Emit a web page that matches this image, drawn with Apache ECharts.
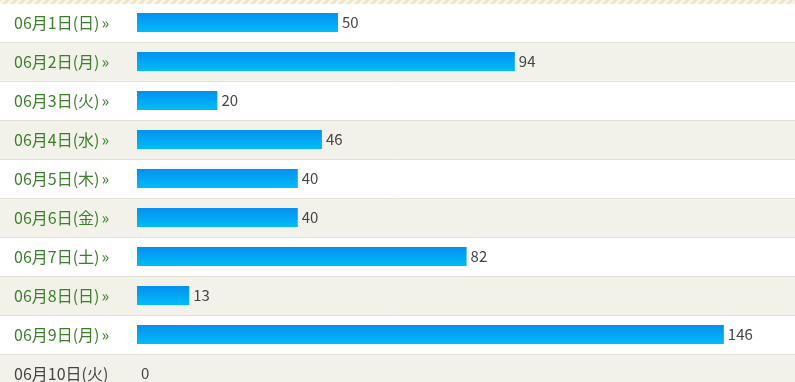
<!DOCTYPE html>
<html><head><meta charset="utf-8">
<script src="https://cdn.jsdelivr.net/npm/echarts@6/dist/echarts.min.js"></script>
<style>html,body{margin:0;padding:0;background:#fff}#c{width:795px;height:382px}</style>
</head><body><div id="c"></div>
<script>
var categories = ['06月1日(日)','06月2日(月)','06月3日(火)','06月4日(水)','06月5日(木)','06月6日(金)','06月7日(土)','06月8日(日)','06月9日(月)','06月10日(火)'];
var values = [50,94,20,46,40,40,82,13,146,0];
var linked = [true,true,true,true,true,true,true,true,true,false];

var chart = echarts.init(document.getElementById('c'), null, {renderer:'canvas'});
var pc = document.createElement('canvas'); pc.width = 8; pc.height = 8;
var g = pc.getContext('2d');
g.fillStyle = '#faf7ea'; g.fillRect(0,0,8,8);
g.strokeStyle = '#efe6c8'; g.lineWidth = 3;
g.beginPath(); g.moveTo(-2,10); g.lineTo(10,-2); g.moveTo(6,10); g.lineTo(10,6); g.moveTo(-2,2); g.lineTo(2,-2); g.stroke();

var GT = 3, RH = 39;
var GH = RH*categories.length; // last row runs past the bottom edge
var FF = '"Noto Sans CJK JP", sans-serif';
var GREEN = '#3b7f2b';
chart.setOption({
  animation:false,
  grid:[
    {left:0, right:0, top:GT, height:GH, outerBoundsMode:'none', containLabel:false},
    {left:137, right:0, top:GT, height:GH, outerBoundsMode:'none', containLabel:false}
  ],
  xAxis:[
    {gridIndex:0, type:'value', show:false, min:0, max:1},
    {gridIndex:1, type:'value', min:0, max:163.7, show:false}
  ],
  yAxis:[
    {gridIndex:0, type:'category', inverse:true, data:categories,
     axisLine:{show:false}, axisTick:{show:false}, axisLabel:{show:false},
     splitArea:{show:true, areaStyle:{color:['#ffffff','#f3f2ea']}},
     splitLine:{show:true, lineStyle:{color:'#e4e2d6', width:1}}},
    {gridIndex:1, type:'category', inverse:true, data:categories,
     axisLine:{show:false}, axisTick:{show:false}, splitLine:{show:false},
     axisLabel:{align:'left', margin:123, fontSize:16, fontFamily:FF,
       formatter:function(v,i){ return linked[i] ? v + '{a|»}' : v; },
       color:function(v,i){ return linked[i] ? GREEN : '#444444'; },
       rich:{a:{fontSize:16, color:GREEN, fontFamily:FF, padding:[0,0,0,2]}}
     }}
  ],
  series:[{
    type:'bar', xAxisIndex:1, yAxisIndex:1, data:values, barWidth:19,
    itemStyle:{color:new echarts.graphic.LinearGradient(0,0,0,1,[{offset:0,color:'#0590f0'},{offset:1,color:'#00bcf8'}])},
    label:{show:true, position:'right', distance:4, color:'#444444', fontSize:15, fontFamily:FF}
  }],
  graphic:[{type:'rect', left:0, top:0, shape:{width:795, height:4}, style:{fill:{image:pc, repeat:'repeat'}}, z:100}]
});
</script></body></html>
